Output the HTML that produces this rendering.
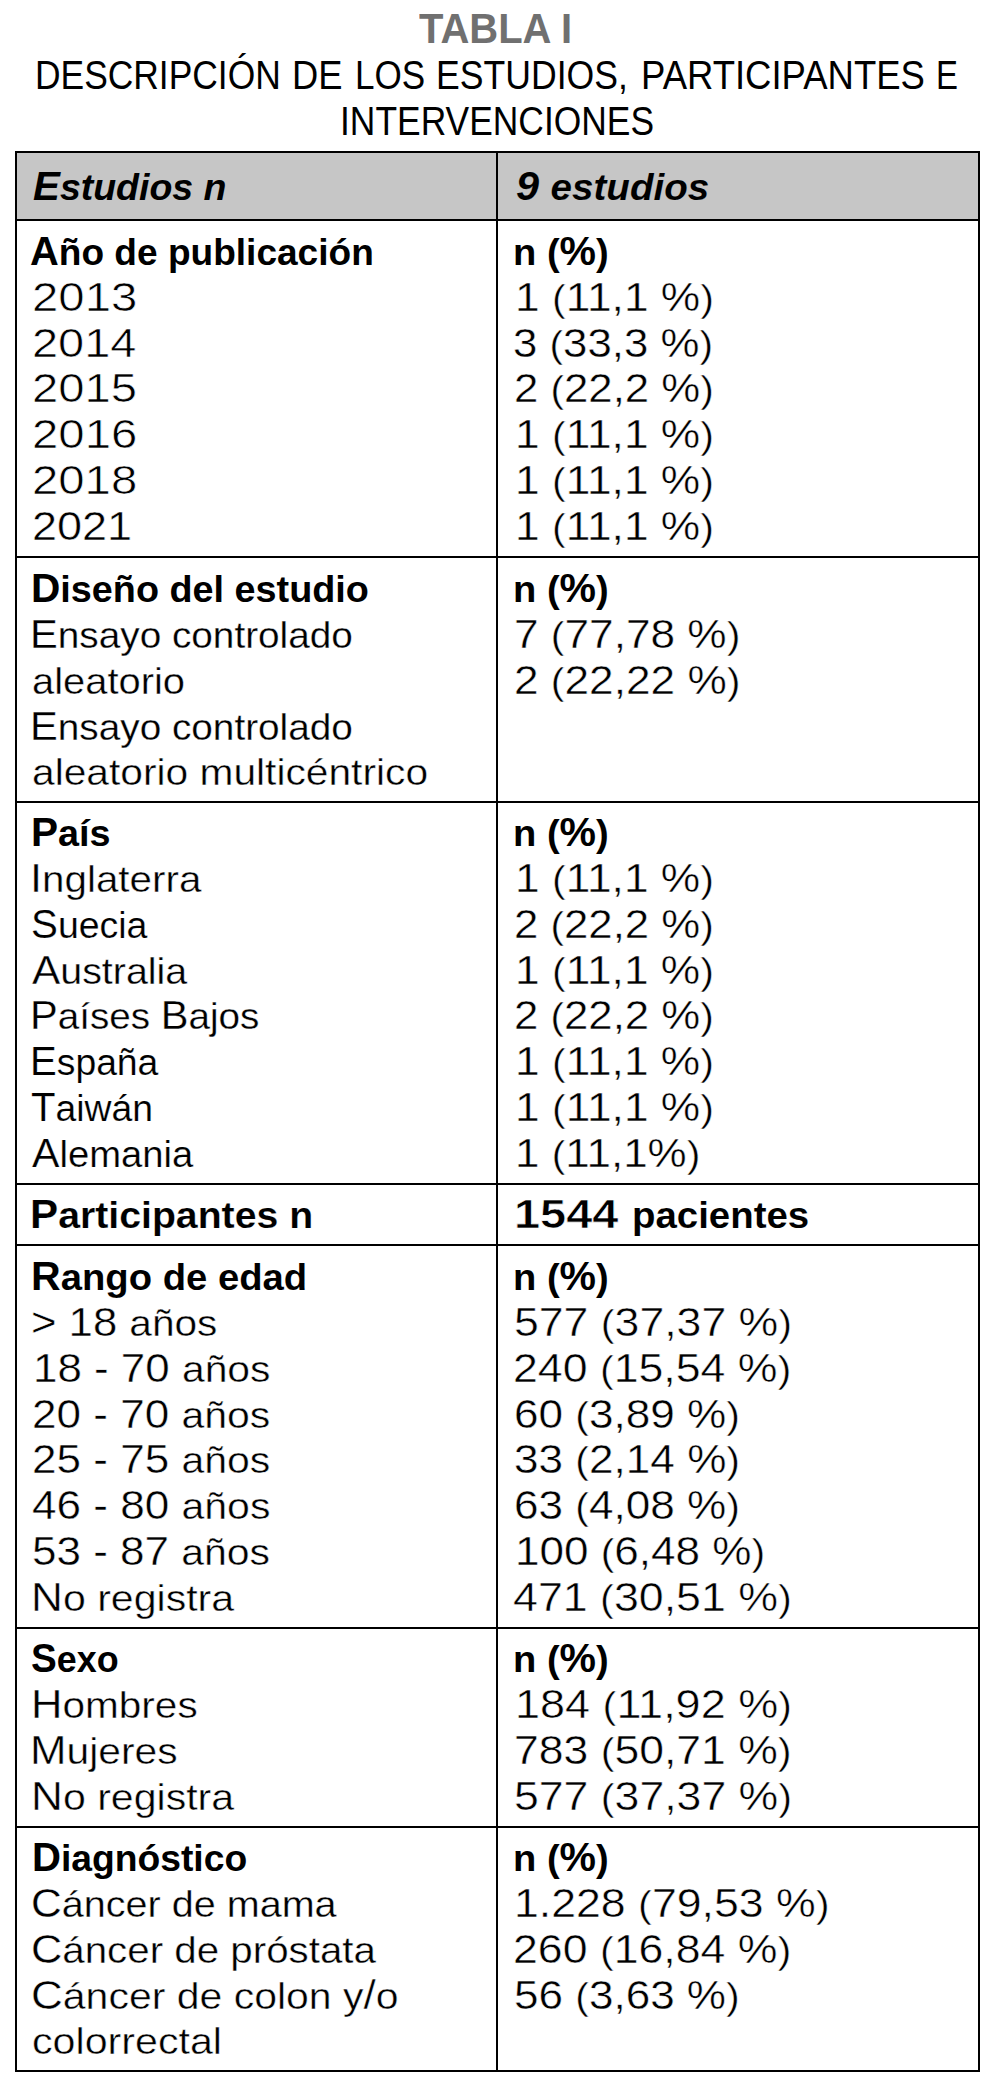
<!DOCTYPE html><html><head><meta charset="utf-8"><style>
*{margin:0;padding:0}
html,body{width:1004px;height:2085px;background:#fff;overflow:hidden;position:relative}
body{font-family:"Liberation Sans",sans-serif;color:#000}
.t{position:absolute;white-space:nowrap;line-height:1;transform-origin:0 0}
.s{-webkit-text-stroke:0 #fff}
.lc{font-size:0.93em}
.h{position:absolute;background:#000;height:2px;left:15px;width:965px}
.v{position:absolute;background:#000;width:2px;top:151px;height:1921px}
.hd{position:absolute;background:#c6c6c6;left:15px;top:151px;width:965px;height:70px}

</style></head><body>
<div class="hd"></div>
<div class="h" style="top:151px"></div>
<div class="h" style="top:219px"></div>
<div class="h" style="top:556px"></div>
<div class="h" style="top:801px"></div>
<div class="h" style="top:1183px"></div>
<div class="h" style="top:1244px"></div>
<div class="h" style="top:1627px"></div>
<div class="h" style="top:1826px"></div>
<div class="h" style="top:2070px"></div>
<div class="v" style="left:15px"></div>
<div class="v" style="left:496px"></div>
<div class="v" style="left:978px"></div>
<div class="t s" style="top:166.44px;left:33.47px;font-size:40.00px;font-weight:bold;font-style:italic;-webkit-text-stroke-color:#c6c6c6;transform:scale(1.0076,1.0000);">E<span class="lc">studios n</span></div>
<div class="t s" style="top:166.44px;left:516.35px;font-size:40.00px;font-weight:bold;font-style:italic;-webkit-text-stroke-color:#c6c6c6;transform:scale(1.0370,1.0000);-webkit-text-stroke-width:0.09px;">9 <span class="lc">estudios</span></div>
<div class="t s" style="top:230.94px;left:30.30px;font-size:40.00px;font-weight:bold;transform:scale(0.9965,1.0000);">A<span class="lc">ño de publicación</span></div>
<div class="t s" style="top:276.76px;left:31.53px;font-size:40.00px;transform:scale(1.1828,1.0000);-webkit-text-stroke-width:0.60px;">2013</div>
<div class="t s" style="top:322.58px;left:31.96px;font-size:40.00px;transform:scale(1.1736,1.0000);-webkit-text-stroke-width:0.59px;">2014</div>
<div class="t s" style="top:368.40px;left:31.64px;font-size:40.00px;transform:scale(1.1811,1.0000);-webkit-text-stroke-width:0.60px;">2015</div>
<div class="t s" style="top:414.22px;left:31.57px;font-size:40.00px;transform:scale(1.1828,1.0000);-webkit-text-stroke-width:0.60px;">2016</div>
<div class="t s" style="top:460.04px;left:31.61px;font-size:40.00px;transform:scale(1.1822,1.0000);-webkit-text-stroke-width:0.60px;">2018</div>
<div class="t s" style="top:505.86px;left:32.00px;font-size:40.00px;transform:scale(1.1252,1.0000);-webkit-text-stroke-width:0.48px;">2021</div>
<div class="t s" style="top:230.94px;left:512.62px;font-size:40.00px;font-weight:bold;transform:scale(1.0251,1.0000);-webkit-text-stroke-width:0.03px;"><span class="lc">n (</span>%<span class="lc">)</span></div>
<div class="t s" style="top:276.76px;left:514.98px;font-size:40.00px;transform:scale(1.1071,1.0000);-webkit-text-stroke-width:0.44px;">1 <span class="lc">(</span>11,1 %<span class="lc">)</span></div>
<div class="t s" style="top:322.58px;left:513.31px;font-size:40.00px;transform:scale(1.0946,1.0000);-webkit-text-stroke-width:0.41px;">3 <span class="lc">(</span>33,3 %<span class="lc">)</span></div>
<div class="t s" style="top:368.40px;left:514.02px;font-size:40.00px;transform:scale(1.0933,1.0000);-webkit-text-stroke-width:0.41px;">2 <span class="lc">(</span>22,2 %<span class="lc">)</span></div>
<div class="t s" style="top:414.22px;left:514.98px;font-size:40.00px;transform:scale(1.1071,1.0000);-webkit-text-stroke-width:0.44px;">1 <span class="lc">(</span>11,1 %<span class="lc">)</span></div>
<div class="t s" style="top:460.04px;left:514.98px;font-size:40.00px;transform:scale(1.1071,1.0000);-webkit-text-stroke-width:0.44px;">1 <span class="lc">(</span>11,1 %<span class="lc">)</span></div>
<div class="t s" style="top:505.86px;left:514.98px;font-size:40.00px;transform:scale(1.1071,1.0000);-webkit-text-stroke-width:0.44px;">1 <span class="lc">(</span>11,1 %<span class="lc">)</span></div>
<div class="t s" style="top:568.14px;left:31.42px;font-size:40.00px;font-weight:bold;transform:scale(1.0157,1.0000);">D<span class="lc">iseño del estudio</span></div>
<div class="t s" style="top:613.96px;left:29.69px;font-size:40.00px;transform:scale(1.0418,1.0000);-webkit-text-stroke-width:0.28px;">E<span class="lc">nsayo controlado</span></div>
<div class="t s" style="top:659.78px;left:31.95px;font-size:40.00px;transform:scale(1.0727,1.0000);-webkit-text-stroke-width:0.36px;"><span class="lc">aleatorio</span></div>
<div class="t s" style="top:705.60px;left:29.69px;font-size:40.00px;transform:scale(1.0418,1.0000);-webkit-text-stroke-width:0.28px;">E<span class="lc">nsayo controlado</span></div>
<div class="t s" style="top:751.42px;left:31.84px;font-size:40.00px;transform:scale(1.0949,1.0000);-webkit-text-stroke-width:0.41px;"><span class="lc">aleatorio multicéntrico</span></div>
<div class="t s" style="top:568.14px;left:512.62px;font-size:40.00px;font-weight:bold;transform:scale(1.0251,1.0000);-webkit-text-stroke-width:0.03px;"><span class="lc">n (</span>%<span class="lc">)</span></div>
<div class="t s" style="top:613.96px;left:514.06px;font-size:40.00px;transform:scale(1.1045,1.0000);-webkit-text-stroke-width:0.43px;">7 <span class="lc">(</span>77,78 %<span class="lc">)</span></div>
<div class="t s" style="top:659.78px;left:513.68px;font-size:40.00px;transform:scale(1.1046,1.0000);-webkit-text-stroke-width:0.43px;">2 <span class="lc">(</span>22,22 %<span class="lc">)</span></div>
<div class="t s" style="top:812.14px;left:30.60px;font-size:40.00px;font-weight:bold;transform:scale(1.0143,1.0000);">P<span class="lc">aís</span></div>
<div class="t s" style="top:857.96px;left:30.49px;font-size:40.00px;transform:scale(1.0852,1.0000);-webkit-text-stroke-width:0.39px;">I<span class="lc">nglaterra</span></div>
<div class="t s" style="top:903.78px;left:31.04px;font-size:40.00px;transform:scale(1.0075,1.0000);-webkit-text-stroke-width:0.19px;">S<span class="lc">uecia</span></div>
<div class="t s" style="top:949.60px;left:31.51px;font-size:40.00px;transform:scale(1.0593,1.0000);-webkit-text-stroke-width:0.33px;">A<span class="lc">ustralia</span></div>
<div class="t s" style="top:995.42px;left:30.21px;font-size:40.00px;transform:scale(1.0389,1.0000);-webkit-text-stroke-width:0.27px;">P<span class="lc">aíses </span>B<span class="lc">ajos</span></div>
<div class="t s" style="top:1041.24px;left:29.71px;font-size:40.00px;transform:scale(1.0026,1.0000);-webkit-text-stroke-width:0.17px;">E<span class="lc">spaña</span></div>
<div class="t s" style="top:1087.06px;left:31.26px;font-size:40.00px;transform:scale(1.0033,1.0000);-webkit-text-stroke-width:0.18px;">T<span class="lc">aiwán</span></div>
<div class="t s" style="top:1132.88px;left:31.81px;font-size:40.00px;transform:scale(1.0271,1.0000);-webkit-text-stroke-width:0.24px;">A<span class="lc">lemania</span></div>
<div class="t s" style="top:812.14px;left:512.62px;font-size:40.00px;font-weight:bold;transform:scale(1.0251,1.0000);-webkit-text-stroke-width:0.03px;"><span class="lc">n (</span>%<span class="lc">)</span></div>
<div class="t s" style="top:857.96px;left:514.98px;font-size:40.00px;transform:scale(1.1071,1.0000);-webkit-text-stroke-width:0.44px;">1 <span class="lc">(</span>11,1 %<span class="lc">)</span></div>
<div class="t s" style="top:903.78px;left:514.02px;font-size:40.00px;transform:scale(1.0933,1.0000);-webkit-text-stroke-width:0.41px;">2 <span class="lc">(</span>22,2 %<span class="lc">)</span></div>
<div class="t s" style="top:949.60px;left:514.98px;font-size:40.00px;transform:scale(1.1071,1.0000);-webkit-text-stroke-width:0.44px;">1 <span class="lc">(</span>11,1 %<span class="lc">)</span></div>
<div class="t s" style="top:995.42px;left:514.02px;font-size:40.00px;transform:scale(1.0933,1.0000);-webkit-text-stroke-width:0.41px;">2 <span class="lc">(</span>22,2 %<span class="lc">)</span></div>
<div class="t s" style="top:1041.24px;left:514.98px;font-size:40.00px;transform:scale(1.1071,1.0000);-webkit-text-stroke-width:0.44px;">1 <span class="lc">(</span>11,1 %<span class="lc">)</span></div>
<div class="t s" style="top:1087.06px;left:514.98px;font-size:40.00px;transform:scale(1.1071,1.0000);-webkit-text-stroke-width:0.44px;">1 <span class="lc">(</span>11,1 %<span class="lc">)</span></div>
<div class="t s" style="top:1132.88px;left:514.81px;font-size:40.00px;transform:scale(1.0990,1.0000);-webkit-text-stroke-width:0.42px;">1 <span class="lc">(</span>11,1%<span class="lc">)</span></div>
<div class="t s" style="top:1194.14px;left:30.27px;font-size:40.00px;font-weight:bold;transform:scale(1.0547,1.0000);-webkit-text-stroke-width:0.16px;">P<span class="lc">articipantes n</span></div>
<div class="t s" style="top:1194.14px;left:513.50px;font-size:40.00px;font-weight:bold;transform:scale(1.1735,1.0000);-webkit-text-stroke-width:0.60px;">1544</div>
<div class="t s" style="top:1194.14px;left:632.13px;font-size:40.00px;font-weight:bold;transform:scale(1.0331,1.0000);-webkit-text-stroke-width:0.07px;"><span class="lc">pacientes</span></div>
<div class="t s" style="top:1256.14px;left:31.37px;font-size:40.00px;font-weight:bold;transform:scale(1.0283,1.0000);-webkit-text-stroke-width:0.05px;">R<span class="lc">ango de edad</span></div>
<div class="t s" style="top:1301.96px;left:30.98px;font-size:40.00px;transform:scale(1.0914,1.0000);-webkit-text-stroke-width:0.40px;">&gt; 18 <span class="lc">años</span></div>
<div class="t s" style="top:1347.78px;left:32.79px;font-size:40.00px;transform:scale(1.0979,1.0000);-webkit-text-stroke-width:0.42px;">18 - 70 <span class="lc">años</span></div>
<div class="t s" style="top:1393.60px;left:31.84px;font-size:40.00px;transform:scale(1.1013,1.0000);-webkit-text-stroke-width:0.43px;">20 - 70 <span class="lc">años</span></div>
<div class="t s" style="top:1439.42px;left:31.84px;font-size:40.00px;transform:scale(1.1013,1.0000);-webkit-text-stroke-width:0.43px;">25 - 75 <span class="lc">años</span></div>
<div class="t s" style="top:1485.24px;left:31.96px;font-size:40.00px;transform:scale(1.1021,1.0000);-webkit-text-stroke-width:0.43px;">46 - 80 <span class="lc">años</span></div>
<div class="t s" style="top:1531.06px;left:31.63px;font-size:40.00px;transform:scale(1.1005,1.0000);-webkit-text-stroke-width:0.43px;">53 - 87 <span class="lc">años</span></div>
<div class="t s" style="top:1576.88px;left:30.92px;font-size:40.00px;transform:scale(1.1044,1.0000);-webkit-text-stroke-width:0.43px;">N<span class="lc">o registra</span></div>
<div class="t s" style="top:1256.14px;left:512.62px;font-size:40.00px;font-weight:bold;transform:scale(1.0251,1.0000);-webkit-text-stroke-width:0.03px;"><span class="lc">n (</span>%<span class="lc">)</span></div>
<div class="t s" style="top:1301.96px;left:513.51px;font-size:40.00px;transform:scale(1.1149,1.0000);-webkit-text-stroke-width:0.46px;">577 <span class="lc">(</span>37,37 %<span class="lc">)</span></div>
<div class="t s" style="top:1347.78px;left:513.32px;font-size:40.00px;transform:scale(1.1159,1.0000);-webkit-text-stroke-width:0.46px;">240 <span class="lc">(</span>15,54 %<span class="lc">)</span></div>
<div class="t s" style="top:1393.60px;left:513.78px;font-size:40.00px;transform:scale(1.1029,1.0000);-webkit-text-stroke-width:0.43px;">60 <span class="lc">(</span>3,89 %<span class="lc">)</span></div>
<div class="t s" style="top:1439.42px;left:513.62px;font-size:40.00px;transform:scale(1.1030,1.0000);-webkit-text-stroke-width:0.43px;">33 <span class="lc">(</span>2,14 %<span class="lc">)</span></div>
<div class="t s" style="top:1485.24px;left:513.78px;font-size:40.00px;transform:scale(1.1029,1.0000);-webkit-text-stroke-width:0.43px;">63 <span class="lc">(</span>4,08 %<span class="lc">)</span></div>
<div class="t s" style="top:1531.06px;left:515.22px;font-size:40.00px;transform:scale(1.1011,1.0000);-webkit-text-stroke-width:0.43px;">100 <span class="lc">(</span>6,48 %<span class="lc">)</span></div>
<div class="t s" style="top:1576.88px;left:512.79px;font-size:40.00px;transform:scale(1.1182,1.0000);-webkit-text-stroke-width:0.47px;">471 <span class="lc">(</span>30,51 %<span class="lc">)</span></div>
<div class="t s" style="top:1638.14px;left:31.38px;font-size:40.00px;font-weight:bold;transform:scale(0.9646,1.0000);">S<span class="lc">exo</span></div>
<div class="t s" style="top:1683.96px;left:30.58px;font-size:40.00px;transform:scale(1.0902,1.0000);-webkit-text-stroke-width:0.40px;">H<span class="lc">ombres</span></div>
<div class="t s" style="top:1729.78px;left:30.00px;font-size:40.00px;transform:scale(1.0961,1.0000);-webkit-text-stroke-width:0.41px;">M<span class="lc">ujeres</span></div>
<div class="t s" style="top:1775.60px;left:30.92px;font-size:40.00px;transform:scale(1.1044,1.0000);-webkit-text-stroke-width:0.43px;">N<span class="lc">o registra</span></div>
<div class="t s" style="top:1638.14px;left:512.62px;font-size:40.00px;font-weight:bold;transform:scale(1.0251,1.0000);-webkit-text-stroke-width:0.03px;"><span class="lc">n (</span>%<span class="lc">)</span></div>
<div class="t s" style="top:1683.96px;left:514.83px;font-size:40.00px;transform:scale(1.1241,1.0000);-webkit-text-stroke-width:0.48px;">184 <span class="lc">(</span>11,92 %<span class="lc">)</span></div>
<div class="t s" style="top:1729.78px;left:514.15px;font-size:40.00px;transform:scale(1.1126,1.0000);-webkit-text-stroke-width:0.45px;">783 <span class="lc">(</span>50,71 %<span class="lc">)</span></div>
<div class="t s" style="top:1775.60px;left:513.51px;font-size:40.00px;transform:scale(1.1149,1.0000);-webkit-text-stroke-width:0.46px;">577 <span class="lc">(</span>37,37 %<span class="lc">)</span></div>
<div class="t s" style="top:1837.14px;left:31.85px;font-size:40.00px;font-weight:bold;transform:scale(1.0015,1.0000);">D<span class="lc">iagnóstico</span></div>
<div class="t s" style="top:1882.96px;left:30.83px;font-size:40.00px;transform:scale(1.0639,1.0000);-webkit-text-stroke-width:0.34px;">C<span class="lc">áncer de mama</span></div>
<div class="t s" style="top:1928.78px;left:31.23px;font-size:40.00px;transform:scale(1.0835,1.0000);-webkit-text-stroke-width:0.38px;">C<span class="lc">áncer de próstata</span></div>
<div class="t s" style="top:1974.60px;left:31.01px;font-size:40.00px;transform:scale(1.1018,1.0000);-webkit-text-stroke-width:0.43px;">C<span class="lc">áncer de colon y</span>/<span class="lc">o</span></div>
<div class="t s" style="top:2020.42px;left:31.67px;font-size:40.00px;transform:scale(1.1077,1.0000);-webkit-text-stroke-width:0.44px;"><span class="lc">colorrectal</span></div>
<div class="t s" style="top:1837.14px;left:512.62px;font-size:40.00px;font-weight:bold;transform:scale(1.0251,1.0000);-webkit-text-stroke-width:0.03px;"><span class="lc">n (</span>%<span class="lc">)</span></div>
<div class="t s" style="top:1882.96px;left:514.40px;font-size:40.00px;transform:scale(1.1158,1.0000);-webkit-text-stroke-width:0.46px;">1.228 <span class="lc">(</span>79,53 %<span class="lc">)</span></div>
<div class="t s" style="top:1928.78px;left:513.32px;font-size:40.00px;transform:scale(1.1159,1.0000);-webkit-text-stroke-width:0.46px;">260 <span class="lc">(</span>16,84 %<span class="lc">)</span></div>
<div class="t s" style="top:1974.60px;left:513.63px;font-size:40.00px;transform:scale(1.1013,1.0000);-webkit-text-stroke-width:0.43px;">56 <span class="lc">(</span>3,63 %<span class="lc">)</span></div>
<div class="t s" style="top:8.45px;left:419.47px;font-size:42.00px;font-weight:bold;color:#707070;transform:scale(0.9519,1.0000);">TABLA I</div>
<div class="t s" style="top:55.04px;left:34.69px;font-size:40.00px;transform:scale(0.8845,1.0000);">DESCRIPCIÓN</div>
<div class="t s" style="top:55.04px;left:291.50px;font-size:40.00px;transform:scale(0.9082,1.0000);">DE</div>
<div class="t s" style="top:55.04px;left:354.78px;font-size:40.00px;transform:scale(0.8766,1.0000);">LOS</div>
<div class="t s" style="top:55.04px;left:435.50px;font-size:40.00px;transform:scale(0.8898,1.0000);">ESTUDIOS,</div>
<div class="t s" style="top:55.04px;left:640.86px;font-size:40.00px;transform:scale(0.9124,1.0000);">PARTICIPANTES</div>
<div class="t s" style="top:55.04px;left:935.94px;font-size:40.00px;transform:scale(0.8228,1.0000);">E</div>
<div class="t s" style="top:100.94px;left:339.74px;font-size:40.00px;transform:scale(0.8849,1.0000);">INTERVENCIONES</div>
</body></html>
